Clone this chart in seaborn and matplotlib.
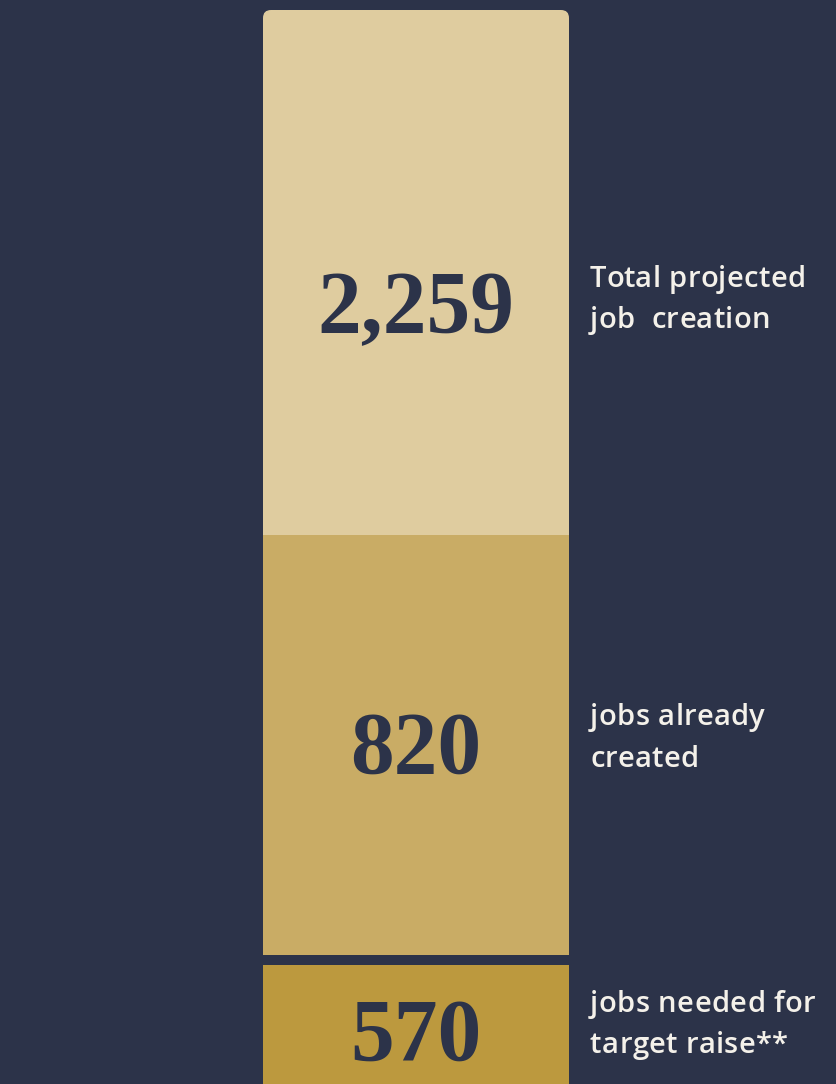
import matplotlib
matplotlib.use("Agg")
import matplotlib.pyplot as plt
from matplotlib.patches import FancyBboxPatch
from matplotlib.font_manager import FontProperties
from matplotlib.textpath import TextToPath
import seaborn as sns

# ---- data ----
values = [2259, 820, 570]
value_labels = ["2,259", "820", "570"]
descriptions = [["Total projected", "job  creation"],
                ["jobs already", "created"],
                ["jobs needed for", "target raise**"]]

# ---- style ----
BG = "#2c3349"
seg_colors = ["#dfcc9f", "#c9ac65", "#bc993e"]
TXT = "#f4f1ea"

sns.set_theme(style="white")
W, H = 836, 1084
DPI = 100
fig = plt.figure(figsize=(W / DPI, H / DPI), dpi=DPI, facecolor=BG)

# panel layout in pixels (top, bottom)
x0, x1 = 263, 569
panels = [(10, 535), (535, 955), (965, 1257)]
num_base = [332, 773, 1060]                  # number baselines (px)
desc_base = [(287, 328), (725, 767), (1012, 1053)]
desc_x = 590

for i, (val, col, (pt, pb)) in enumerate(zip(values, seg_colors, panels)):
    ax = fig.add_axes([x0 / W, 1 - pb / H, (x1 - x0) / W, (pb - pt) / H])
    ax.set_facecolor("none")
    sns.barplot(x=[0], y=[val], width=1, color=col, saturation=1,
                errorbar=None, ax=ax, linewidth=0)
    ax.set_xlim(-0.5, 0.5)
    ax.set_ylim(0, val)
    if i == 0:
        bar = ax.patches[0]
        bx, by = bar.get_x(), bar.get_y()
        bw, bh = bar.get_width(), bar.get_height()
        bar.remove()
        r_px = 8
        rx = r_px / (x1 - x0)
        ry = r_px / (pb - pt) * val
        ax.add_patch(FancyBboxPatch((bx, by - 0.2 * bh), bw, bh * 1.2,
                                    boxstyle=f"round,pad=0,rounding_size={rx}",
                                    mutation_aspect=ry / rx,
                                    facecolor=col, edgecolor="none"))
    ax.axis("off")

# overlay axes in pixel coordinates for text
tax = fig.add_axes([0, 0, 1, 1])
tax.set_xlim(0, W)
tax.set_ylim(H, 0)
tax.axis("off")
tax.set_facecolor("none")

t2p = TextToPath()
lab_prop = FontProperties(family="Open Sans", weight="semibold", size=21)


def text_w(s):
    w, _, _ = t2p.get_text_width_height_descent(s, lab_prop, ismath=False)
    return w * DPI / 72.0


def tracked(x, y, s, tracking):
    ref = text_w("X")
    for k, ch in enumerate(s):
        if ch == " ":
            continue
        off = (text_w(s[:k] + "X") - ref) if k > 0 else 0.0
        tax.text(x + off + k * tracking, y, ch, ha="left", va="baseline",
                 fontproperties=lab_prop, color=TXT)


for i in range(len(values)):
    tax.text((x0 + x1) / 2, num_base[i], value_labels[i], ha="center",
             va="baseline", fontsize=63, color=BG,
             family="Liberation Serif", fontweight="bold")
    for line, yb in zip(descriptions[i], desc_base[i]):
        tracked(desc_x, yb, line, 0.4)

fig.savefig("out.png", dpi=DPI, facecolor=BG)
